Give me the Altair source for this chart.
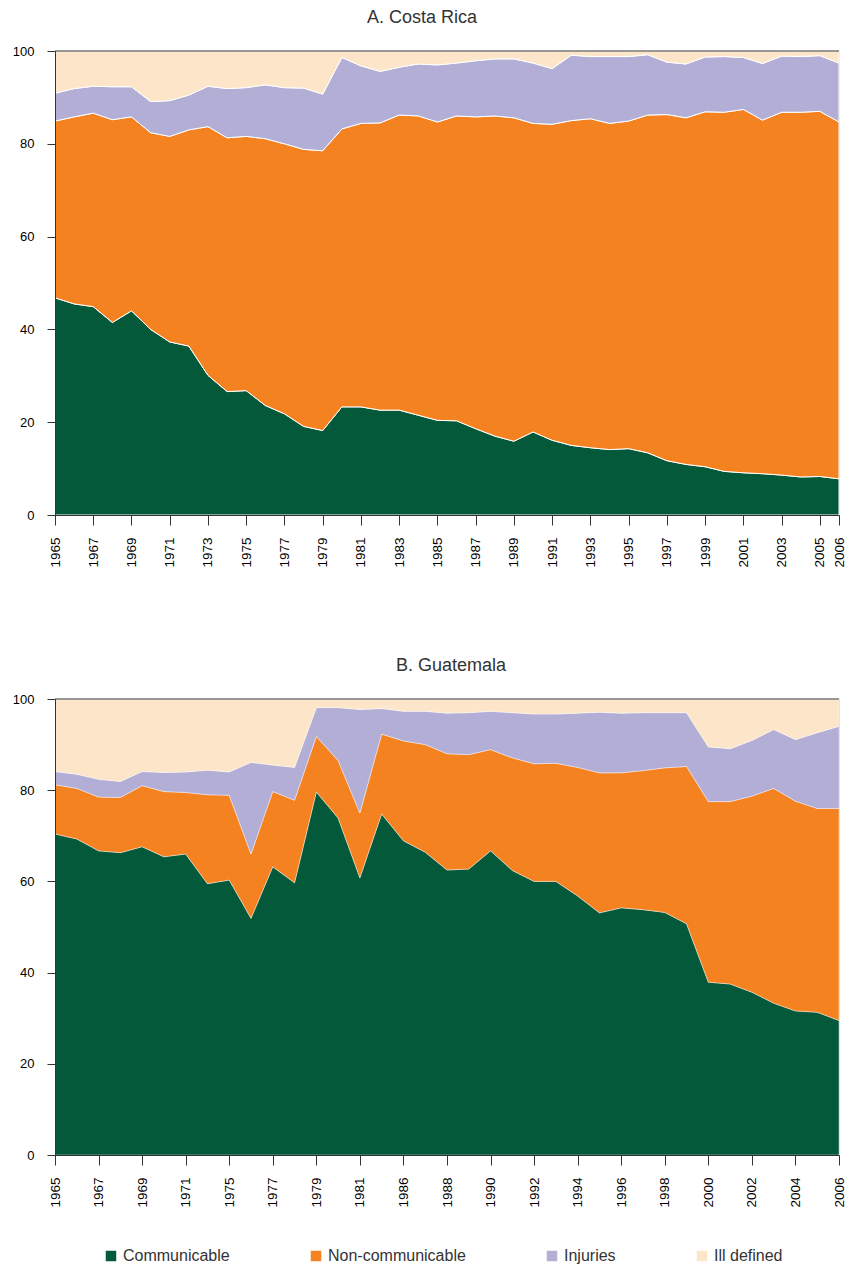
import altair as alt
import pandas as pd

causes = ["Communicable", "Non-communicable", "Injuries", "Ill defined"]
colors = ["#03593a", "#f58220", "#b3aed6", "#fde5c9"]

# ---------------- A. Costa Rica ----------------
cr_years = ["1965", "1966", "1967", "1968", "1969", "1970", "1971", "1972", "1973", "1974",
            "1975", "1976", "1977", "1978", "1979", "1980", "1981", "1982", "1983", "1984",
            "1985", "1986", "1987", "1988", "1989", "1990", "1991", "1992", "1993", "1994",
            "1995", "1996", "1997", "1998", "1999", "2000", "2001", "2002", "2003", "2004",
            "2005", "2006"]
cr_ticks = ["1965", "1967", "1969", "1971", "1973", "1975", "1977", "1979", "1981", "1983",
            "1985", "1987", "1989", "1991", "1993", "1995", "1997", "1999", "2001", "2003",
            "2005", "2006"]
cr_communicable = [46.8, 45.5, 44.9, 41.5, 44.0, 40.0, 37.3, 36.4, 30.1, 26.6,
                   26.8, 23.6, 21.8, 19.1, 18.2, 23.3, 23.3, 22.6, 22.6, 21.5,
                   20.4, 20.3, 18.6, 17.0, 15.9, 17.9, 16.1, 15.0, 14.5, 14.1,
                   14.3, 13.4, 11.7, 10.9, 10.4, 9.4, 9.1, 8.9, 8.6, 8.2,
                   8.3, 7.8]
cr_noncommunicable = [38.1, 40.3, 41.7, 43.7, 41.8, 42.4, 44.3, 46.6, 53.6, 54.7,
                      54.8, 57.5, 58.2, 59.7, 60.3, 59.9, 61.1, 61.9, 63.6, 64.5,
                      64.3, 65.7, 67.2, 69.0, 69.7, 66.5, 68.1, 70.0, 70.9, 70.3,
                      70.6, 72.8, 74.6, 74.7, 76.5, 77.4, 78.3, 76.2, 78.2, 78.6,
                      78.7, 76.9]
cr_injuries = [6.0, 6.1, 5.8, 7.1, 6.5, 6.7, 7.7, 7.5, 8.7, 10.6,
               10.5, 11.6, 12.1, 13.2, 12.2, 15.4, 12.4, 11.1, 10.3, 11.2,
               12.3, 11.4, 12.1, 12.3, 12.7, 13.0, 12.0, 14.1, 13.4, 14.4,
               13.9, 13.0, 11.3, 11.6, 11.8, 12.0, 11.2, 12.2, 12.1, 12.0,
               12.0, 12.7]
cr_ill_defined = [9.1, 8.1, 7.6, 7.7, 7.7, 10.9, 10.7, 9.5, 7.6, 8.1,
                  7.9, 7.3, 7.9, 8.0, 9.3, 1.4, 3.2, 4.4, 3.5, 2.8,
                  3.0, 2.6, 2.1, 1.7, 1.7, 2.6, 3.8, 0.9, 1.2, 1.2,
                  1.2, 0.8, 2.4, 2.8, 1.3, 1.2, 1.4, 2.7, 1.1, 1.2,
                  1.0, 2.6]

# ---------------- B. Guatemala ----------------
gt_years = ["1965", "1966", "1967", "1968", "1969", "1970", "1971", "1974", "1975", "1976",
            "1977", "1978", "1979", "1980", "1981", "1984", "1986", "1987", "1988", "1989",
            "1990", "1991", "1992", "1993", "1994", "1995", "1996", "1997", "1998", "1999",
            "2000", "2001", "2002", "2003", "2004", "2005", "2006"]
gt_ticks = ["1965", "1967", "1969", "1971", "1975", "1977", "1979", "1981", "1986", "1988",
            "1990", "1992", "1994", "1996", "1998", "2000", "2002", "2004", "2006"]
gt_communicable = [70.4, 69.3, 66.7, 66.3, 67.6, 65.4, 66.0, 59.5, 60.3, 51.9,
                   63.2, 59.7, 79.6, 73.9, 60.8, 74.8, 68.9, 66.4, 62.5, 62.7,
                   66.7, 62.4, 60.0, 60.0, 56.8, 53.1, 54.2, 53.8, 53.2, 50.7,
                   37.9, 37.5, 35.7, 33.3, 31.6, 31.3, 29.5]
gt_noncommunicable = [10.8, 11.1, 11.8, 12.1, 13.4, 14.3, 13.5, 19.5, 18.6, 14.1,
                      16.5, 18.1, 12.2, 12.6, 14.2, 17.5, 21.9, 23.6, 25.5, 25.1,
                      22.2, 24.7, 25.8, 25.9, 28.2, 30.7, 29.6, 30.5, 31.7, 34.5,
                      39.6, 40.0, 43.0, 47.1, 46.0, 44.7, 46.5]
gt_injuries = [2.9, 3.1, 3.9, 3.5, 3.1, 4.2, 4.5, 5.4, 5.1, 20.1,
               5.8, 7.2, 6.3, 11.6, 22.7, 5.6, 6.5, 7.3, 8.9, 9.2,
               8.4, 9.9, 10.9, 10.8, 11.9, 13.3, 13.1, 12.7, 12.1, 11.8,
               12.0, 11.6, 12.2, 12.9, 13.5, 16.6, 18.0]
gt_ill_defined = [15.9, 16.5, 17.6, 18.1, 15.9, 16.1, 16.0, 15.6, 16.0, 13.9,
                  14.5, 15.0, 1.9, 1.9, 2.3, 2.1, 2.7, 2.7, 3.1, 3.0,
                  2.7, 3.0, 3.3, 3.3, 3.1, 2.9, 3.1, 3.0, 3.0, 3.0,
                  10.5, 10.9, 9.1, 6.7, 8.9, 7.4, 6.0]

FONT = "Liberation Sans"
TEXT = "#333333"


def long_table(years, series):
    rows = []
    for k, (cause, vals) in enumerate(zip(causes, series)):
        for y, v in zip(years, vals):
            rows.append({"year": y, "cause": cause, "value": v, "order": k})
    return pd.DataFrame(rows)


def panel(years, ticks, series, title, width, height, stroke_w, title_dx):
    df = long_table(years, series)
    area = alt.Chart(df).mark_area(
        stroke="white", strokeWidth=stroke_w, interpolate="linear"
    ).encode(
        x=alt.X("year:O", sort=years, title=None,
                scale=alt.Scale(type="point", padding=0),
                axis=alt.Axis(values=ticks, labelAngle=-90, labelAlign="right",
                              labelBaseline="middle", labelFontSize=13.5,
                              labelPadding=12, tickSize=10, labelOverlap=False,
                              domainColor=TEXT, tickColor=TEXT, zindex=1)),
        y=alt.Y("value:Q", stack="zero", title=None,
                scale=alt.Scale(domain=[0, 100], nice=False),
                axis=alt.Axis(values=[0, 20, 40, 60, 80, 100], labelFontSize=13,
                              labelPadding=13, tickSize=8, grid=False,
                              domainColor=TEXT, tickColor=TEXT, zindex=1)),
        color=alt.Color("cause:N",
                        scale=alt.Scale(domain=causes, range=colors),
                        legend=alt.Legend(title=None, orient="none", direction="horizontal",
                                          legendX=48, legendY=1197,
                                          symbolType="square", symbolSize=110,
                                          symbolStrokeWidth=0, labelFontSize=16,
                                          labelOffset=4, columnPadding=78,
                                          padding=0, labelColor=TEXT, labelFont=FONT)),
        order=alt.Order("order:Q", sort="ascending"),
    )
    top = alt.Chart(pd.DataFrame({"edge": [100]})).mark_rule(
        color="#777777", strokeWidth=1.5
    ).encode(y=alt.Y("edge:Q", title=None))
    return alt.layer(area, top).properties(
        width=width, height=height,
        title=alt.TitleParams(title, fontSize=18, fontWeight="normal", font=FONT,
                              color=TEXT, anchor="middle", offset=18, dx=title_dx),
    )


chart_a = panel(cr_years, cr_ticks,
                [cr_communicable, cr_noncommunicable, cr_injuries, cr_ill_defined],
                "A. Costa Rica", 784, 464, 1.0, -25)
chart_b = panel(gt_years, gt_ticks,
                [gt_communicable, gt_noncommunicable, gt_injuries, gt_ill_defined],
                "B. Guatemala", 784, 456, 0.4, 4)

chart = alt.vconcat(chart_a, chart_b, spacing=88).properties(
    padding={"left": 3, "top": 0, "right": 0, "bottom": 0}
).configure_view(stroke=None).configure_axis(
    labelFont=FONT, labelColor=TEXT
).configure(background="white")

chart.save("out.html", embed_options={"renderer": "svg", "actions": False})
